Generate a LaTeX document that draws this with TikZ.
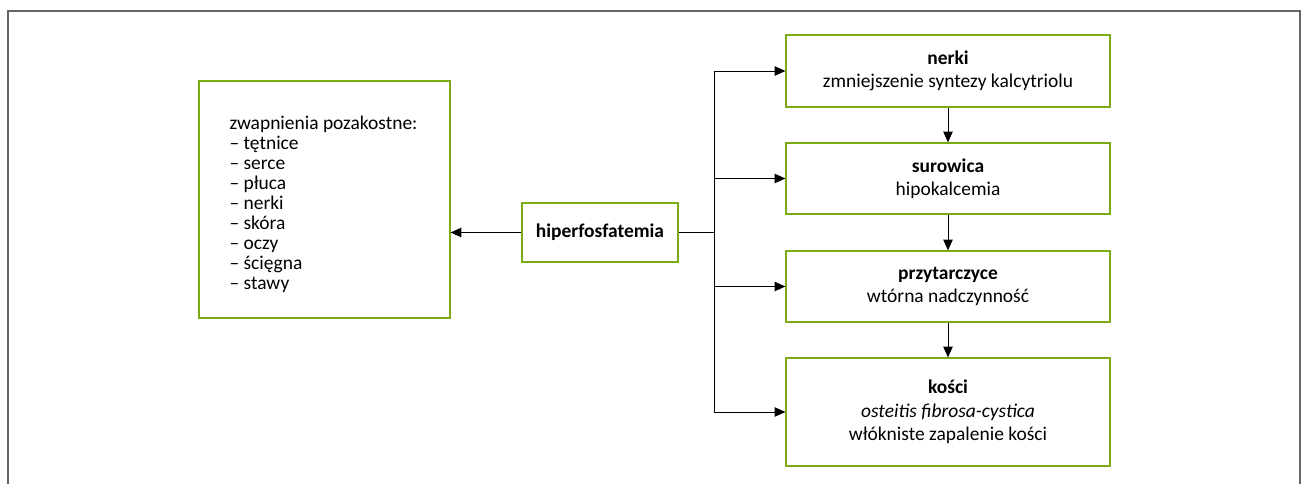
\documentclass[tikz,border=0pt]{standalone}
\usepackage{fontspec}
\setmainfont{Carlito}
\usepackage{xcolor}
\usepackage{tikz}
\usetikzlibrary{arrows.meta, positioning}

\definecolor{boxgreen}{RGB}{122,170,20}

\begin{document}
\begin{tikzpicture}[
  x=0.75pt, y=-0.75pt,
  >={Triangle[length=8pt,width=7pt]},
  font=\fontsize{14.6}{17.5}\selectfont,
  greenbox/.style={rectangle, draw=boxgreen, line width=0.9pt, align=center, inner sep=0pt},
  link/.style={draw, line width=0.7pt}
]
  \useasboundingbox (0,0) rectangle (1303,484);
  \draw[black!60, line width=0.8pt] (8,484) -- (8,11) -- (1300,11) -- (1300,484);

  \node[greenbox, minimum width=251*0.75pt, minimum height=237*0.75pt] (zwap) at (324.5,199.5) {};
  \node[align=left, inner sep=0pt, font=\fontsize{14.6}{15}\selectfont] (zwaplist) at (323.5,204.5)
    {zwapnienia pozakostne:\\ -- tętnice\\ -- serce\\ -- płuca\\ -- nerki\\ -- skóra\\ -- oczy\\ -- ścięgna\\ -- stawy};
  \node[greenbox, minimum width=156*0.75pt, minimum height=59*0.75pt] (hyper) at (600,232.5) {\textbf{hiperfosfatemia}};

  \node[greenbox, minimum width=324*0.75pt, minimum height=72*0.75pt] (nerki) at (948,71) {\textbf{nerki}\\ zmniejszenie syntezy kalcytriolu};
  \node[greenbox, minimum width=324*0.75pt, minimum height=71*0.75pt] (surow) at (948,178.5) {\textbf{surowica}\\ hipokalcemia};
  \node[greenbox, minimum width=324*0.75pt, minimum height=71*0.75pt] (przyt) at (948,286.5) {\textbf{przytarczyce}\\ wtórna nadczynność};
  \node[greenbox, minimum width=324*0.75pt, minimum height=108*0.75pt] (kosci) at (948,412) {\textbf{kości}\\ \textit{osteitis fibrosa-cystica}\\ włókniste zapalenie kości};

  \coordinate (bus) at (714,232.5);

  % connectors
  \draw[link, ->] (hyper.west) -- (hyper.west -| zwap.east);
  \draw[link] (hyper) -- (bus);
  \draw[link] (bus |- nerki) -- (bus |- kosci);
  \draw[link, ->] (bus |- nerki) -- (nerki);
  \draw[link, ->] (bus |- surow) -- (surow);
  \draw[link, ->] (bus |- przyt) -- (przyt);
  \draw[link, ->] (bus |- kosci) -- (kosci);
  \draw[link, ->] (nerki) -- (surow);
  \draw[link, ->] (surow) -- (przyt);
  \draw[link, ->] (przyt) -- (kosci);
\end{tikzpicture}
\end{document}
